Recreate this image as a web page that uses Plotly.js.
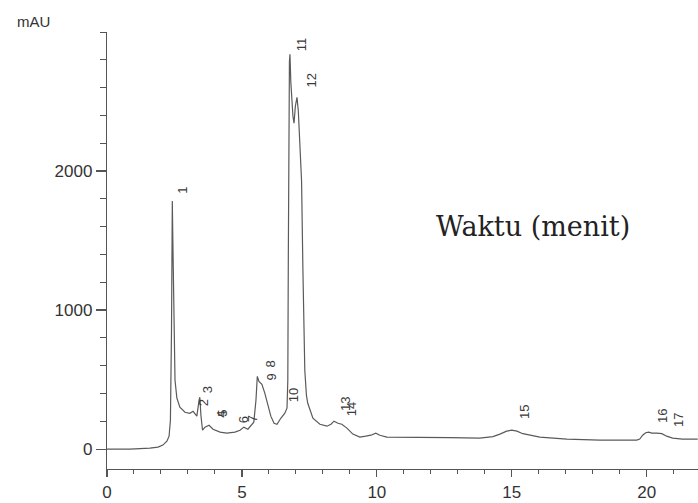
<!DOCTYPE html>
<html>
<head>
<meta charset="utf-8">
<script src="https://cdn.plot.ly/plotly-3.0.1.min.js"></script>
<style>html,body{margin:0;padding:0;background:#fff;}#chart{width:698px;height:503px;}</style>
</head>
<body>
<div id="chart"></div>
<script>
// Retention time (min) and signal (mAU)
var timeMin = [0, 0.85, 1.59, 1.89, 2.07, 2.22, 2.30, 2.35, 2.39, 2.42, 2.44, 2.48, 2.52, 2.59, 2.70, 2.89, 3.07, 3.19, 3.33, 3.41, 3.44, 3.48, 3.54, 3.63, 3.78, 3.93, 4.19, 4.44, 4.74, 4.93, 5.07, 5.22, 5.33, 5.44, 5.52, 5.57, 5.63, 5.74, 5.85, 5.96, 6.07, 6.19, 6.30, 6.44, 6.59, 6.67, 6.70, 6.72, 6.74, 6.76, 6.78, 6.81, 6.89, 6.93, 6.98, 7.04, 7.09, 7.15, 7.21, 7.26, 7.33, 7.39, 7.44, 7.63, 7.89, 8.15, 8.30, 8.41, 8.56, 8.70, 8.89, 9.11, 9.37, 9.59, 9.78, 9.96, 10.11, 10.37, 10.85, 11.48, 12.70, 13.81, 14.30, 14.56, 14.81, 15.00, 15.19, 15.41, 15.67, 16.04, 17.04, 18.26, 19.63, 19.74, 19.85, 19.96, 20.07, 20.19, 20.37, 20.56, 20.74, 20.96, 21.33, 21.89];
var signalMAU = [0, 0, 7, 14, 29, 57, 93, 208, 853, 1785, 1498, 853, 495, 366, 301, 265, 258, 272, 237, 351, 373, 244, 136, 158, 172, 143, 122, 115, 122, 136, 158, 143, 165, 194, 351, 523, 487, 466, 401, 323, 237, 186, 179, 222, 258, 294, 495, 1426, 2358, 2788, 2839, 2645, 2394, 2344, 2466, 2530, 2430, 2143, 1928, 1283, 566, 387, 330, 222, 179, 165, 179, 201, 186, 179, 151, 108, 86, 93, 100, 115, 100, 86, 86, 86, 82, 79, 90, 108, 129, 136, 129, 111, 100, 86, 72, 65, 65, 72, 100, 118, 122, 115, 115, 111, 93, 79, 72, 72];

// Peak numbers and where their labels sit
var peakLabels = ["1","2","3","4","5","6","7","8","9","10","11","12","13","14","15","16","17"];
var labelTime = [2.81, 3.56, 3.70, 4.24, 4.28, 5.04, 5.37, 6.05, 6.10, 6.89, 7.22, 7.56, 8.81, 9.04, 15.48, 20.56, 21.15];
var labelMAU = [1864, 330, 430, 251, 258, 208, 222, 610, 520, 387, 2910, 2652, 323, 287, 265, 237, 208];

var xTickVals = [0, 5, 10, 15, 20];
var yTickVals = [0, 1000, 2000];

var trace = {
  x: timeMin, y: signalMAU, type: 'scatter', mode: 'lines',
  line: {color: '#5a5a5a', width: 1.2}, hoverinfo: 'x+y', showlegend: false
};

var annotations = peakLabels.map(function (t, i) {
  return {
    x: labelTime[i], y: labelMAU[i], xref: 'x', yref: 'y', text: t,
    showarrow: false, textangle: -90, borderpad: 0,
    font: {family: 'Liberation Sans, Arial, sans-serif', size: 13, color: '#3a3a3a'}
  };
});
annotations.push({
  x: 0.72, y: 0.554, xref: 'paper', yref: 'paper', text: 'Waktu (menit)',
  showarrow: false, xanchor: 'center', yanchor: 'middle',
  font: {family: 'DejaVu Serif, serif', size: 27, color: '#222'}
});
annotations.push({
  x: -0.125, y: 1.023, xref: 'paper', yref: 'paper', text: 'mAU',
  showarrow: false, xanchor: 'center', yanchor: 'middle',
  font: {family: 'Liberation Sans, Arial, sans-serif', size: 15, color: '#333'}
});

var layout = {
  width: 698, height: 503,
  margin: {l: 107, r: 0, t: 32, b: 34, pad: 0},
  paper_bgcolor: '#fff', plot_bgcolor: '#fff',
  xaxis: {
    range: [0, 21.9], tickmode: 'array', tickvals: xTickVals,
    showgrid: false, zeroline: false, showline: true, linecolor: '#555', linewidth: 1.2,
    ticks: 'outside', ticklen: 7, tickcolor: '#555', tickwidth: 1.2,
    minor: {tickmode: 'linear', tick0: 0, dtick: 1, ticks: 'outside', ticklen: 4, tickcolor: '#555', tickwidth: 1},
    tickfont: {family: 'Liberation Sans, Arial, sans-serif', size: 17, color: '#333'}
  },
  yaxis: {
    range: [-143, 3000], tickmode: 'array', tickvals: yTickVals,
    showgrid: false, zeroline: false, showline: true, linecolor: '#555', linewidth: 1.2,
    ticks: 'outside', ticklen: 10, tickcolor: '#555', tickwidth: 1.2,
    minor: {tickmode: 'linear', tick0: 0, dtick: 200, ticks: 'outside', ticklen: 6, tickcolor: '#555', tickwidth: 1},
    tickfont: {family: 'Liberation Sans, Arial, sans-serif', size: 17, color: '#333'}
  },
  annotations: annotations
};

Plotly.newPlot('chart', [trace], layout, {displayModeBar: false, staticPlot: true});
</script>
</body>
</html>
